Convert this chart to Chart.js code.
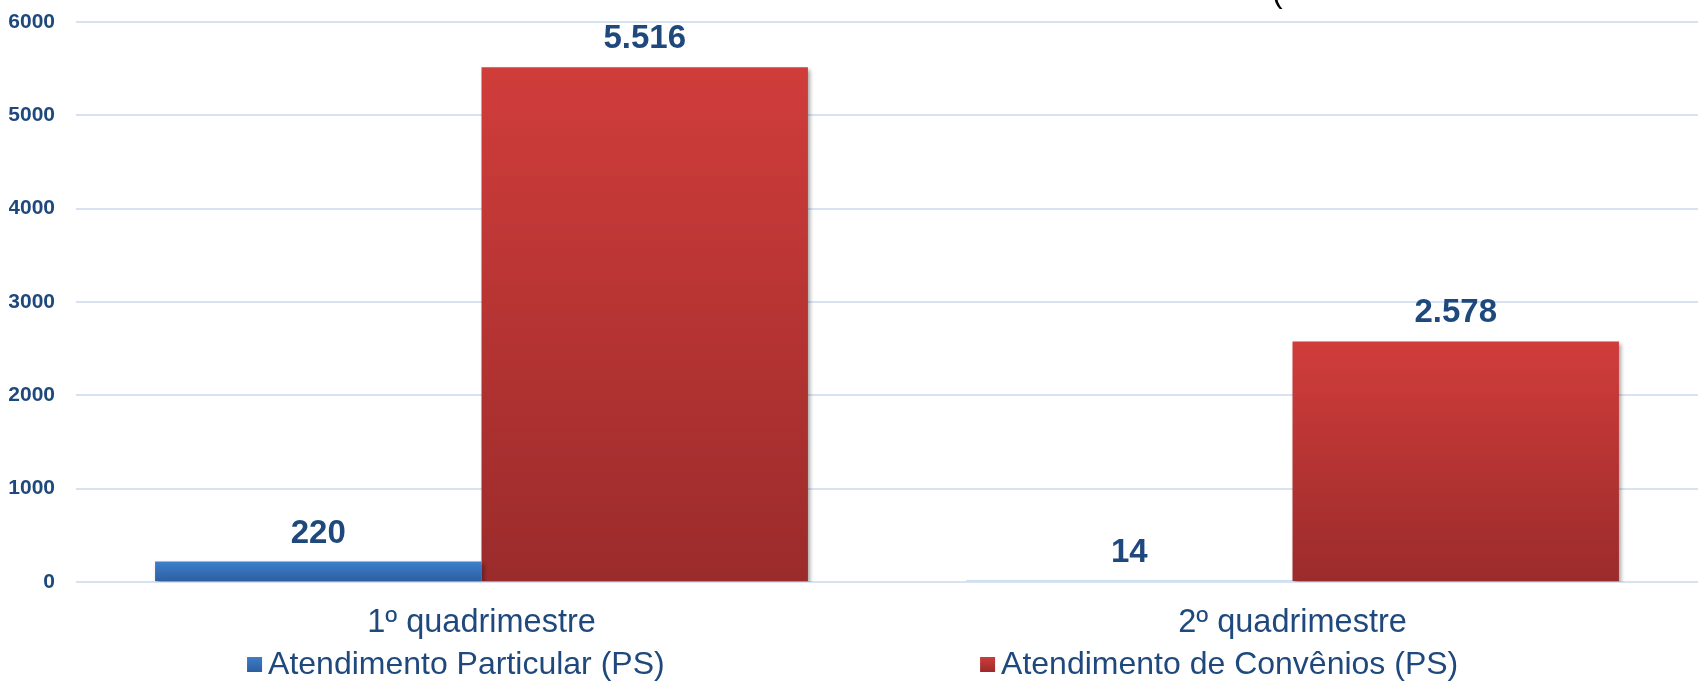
<!DOCTYPE html>
<html>
<head>
<meta charset="utf-8">
<script src="https://cdn.jsdelivr.net/npm/chart.js@4"></script>
<style>
  html, body { margin: 0; padding: 0; background: #ffffff; }
  #wrap { width: 1698px; height: 682px; position: relative; }
</style>
</head>
<body>
<div id="wrap"><canvas id="c" width="1698" height="682"></canvas></div>
<script>
// ---- data ----
const categories = ['1º quadrimestre', '2º quadrimestre'];
const seriesNames = ['Atendimento Particular (PS)', 'Atendimento de Convênios (PS)'];
const particular = [220, 14];
const convenios = [5516, 2578];
const yTicks = [0, 1000, 2000, 3000, 4000, 5000, 6000];

const FONT = '"Liberation Sans", Arial, sans-serif';
const NAVY = '#1F497D';
const gradStops = [
  ['#3E7FCD', '#2D5E9E'],
  ['#D03D3B', '#9B2B2B']
];

function fmt(v) {
  return String(v).replace(/\B(?=(\d{3})+(?!\d))/g, '.');
}

function barGradient(ctx, idx) {
  const chart = ctx.chart;
  const area = chart.chartArea;
  if (!area || ctx.type !== 'data') return gradStops[idx][0];
  const y = chart.scales.y;
  const top = y.getPixelForValue(ctx.raw);
  const bottom = y.getPixelForValue(0);
  if (!(bottom - top > 1)) return gradStops[idx][1];
  const g = chart.ctx.createLinearGradient(0, top, 0, bottom);
  g.addColorStop(0, gradStops[idx][0]);
  g.addColorStop(1, gradStops[idx][1]);
  return g;
}

const shadowPlugin = {
  id: 'barShadow',
  beforeDatasetDraw(chart) {
    const c = chart.ctx;
    c.save();
    c.shadowColor = 'rgba(0,0,0,0.35)';
    c.shadowBlur = 4;
    c.shadowOffsetX = 2;
    c.shadowOffsetY = 3;
  },
  afterDatasetDraw(chart) {
    chart.ctx.restore();
  }
};

const labelPlugin = {
  id: 'valueLabels',
  afterDatasetsDraw(chart) {
    const c = chart.ctx;
    c.save();
    c.font = 'bold 33px ' + FONT;
    c.fillStyle = NAVY;
    c.textAlign = 'center';
    c.textBaseline = 'middle';
    chart.data.datasets.forEach((ds, di) => {
      const meta = chart.getDatasetMeta(di);
      meta.data.forEach((bar, i) => {
        c.fillText(fmt(ds.data[i]), bar.x, bar.y - 28);
      });
    });
    c.restore();
  }
};

const legendPlugin = {
  id: 'customLegend',
  afterDraw(chart) {
    const c = chart.ctx;
    const W = chart.width;
    const starts = [0.1455, 0.5772];
    const yc = 664;
    c.save();
    c.font = '32px ' + FONT;
    c.textBaseline = 'middle';
    c.textAlign = 'left';
    chart.data.datasets.forEach((ds, di) => {
      const x = W * starts[di];
      const g = c.createLinearGradient(0, yc - 8, 0, yc + 8);
      g.addColorStop(0, gradStops[di][0]);
      g.addColorStop(1, gradStops[di][1]);
      c.fillStyle = g;
      c.fillRect(x, yc - 7, 15, 15);
      c.fillStyle = NAVY;
      c.fillText(ds.label, x + 21, yc + 1);
    });
    // clipped fragment of text at the top
    c.fillStyle = '#000000';
    c.font = '32px ' + FONT;
    c.textBaseline = 'alphabetic';
    c.fillText('(', 1272, 2);
    c.restore();
  }
};

new Chart(document.getElementById('c'), {
  type: 'bar',
  data: {
    labels: categories,
    datasets: [
      {
        label: seriesNames[0],
        data: particular,
        backgroundColor: (ctx) => barGradient(ctx, 0),
        borderWidth: 0,
        barPercentage: 1.0,
        categoryPercentage: 0.805
      },
      {
        label: seriesNames[1],
        data: convenios,
        backgroundColor: (ctx) => barGradient(ctx, 1),
        borderWidth: 0,
        barPercentage: 1.0,
        categoryPercentage: 0.805
      }
    ]
  },
  options: {
    responsive: false,
    animation: false,
    devicePixelRatio: 1,
    layout: { padding: { left: 9, right: 0, top: 0, bottom: 17 } },
    plugins: {
      legend: { display: false },
      tooltip: { enabled: false },
      title: { display: false }
    },
    scales: {
      x: {
        grid: { display: false, drawTicks: false },
        border: { display: false },
        ticks: {
          color: NAVY,
          font: { family: FONT, size: 32.5 },
          padding: 22
        }
      },
      y: {
        min: 0,
        max: 6000,
        afterBuildTicks(axis) { axis.ticks = yTicks.map(v => ({ value: v })); },
        afterFit(axis) { axis.width = 67; axis.paddingTop = 22; axis.paddingBottom = 0; },
        grid: { color: '#D7E3F2', lineWidth: 2, drawTicks: false },
        border: { display: false },
        ticks: {
          color: NAVY,
          font: { family: FONT, size: 21, weight: 'bold' },
          padding: 21,
          callback: (v) => String(v)
        }
      }
    }
  },
  plugins: [shadowPlugin, labelPlugin, legendPlugin]
});
</script>
</body>
</html>
